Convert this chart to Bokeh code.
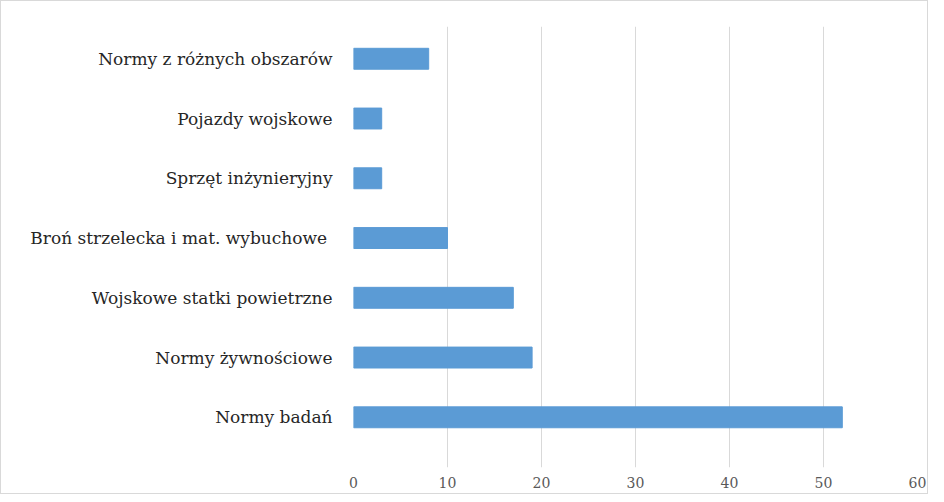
from bokeh.plotting import figure
from bokeh.models import Range1d, FixedTicker, ColumnDataSource
from bokeh.embed import file_html
from bokeh.resources import INLINE

categories = ["Normy badań", "Normy żywnościowe", "Wojskowe statki powietrzne",
              "Broń strzelecka i mat.  wybuchowe", "Sprzęt inżynieryjny",
              "Pojazdy wojskowe", "Normy z różnych obszarów"]
values = [52, 19, 17, 10, 3, 3, 8]
x_ticks = [0, 10, 20, 30, 40, 50, 60]

pos = list(range(len(categories)))
src = ColumnDataSource(dict(y=pos, v=values, name=categories))

p = figure(width=928, height=494, output_backend="svg", toolbar_location=None,
           x_range=Range1d(0, 60), y_range=Range1d(-0.84, 6.54),
           min_border_left=352, min_border_right=12, min_border_top=25, min_border_bottom=28,
           styles={"border": "1px solid #d9d9d9"})

p.hbar(y="y", right="v", left=0, height=0.35, source=src,
       fill_color="#5b9bd5", line_color="#5b9bd5")

p.outline_line_color = None
p.ygrid.grid_line_color = None
p.xgrid.grid_line_color = "#d9d9d9"
p.xgrid.ticker = FixedTicker(ticks=x_ticks)

p.xaxis.ticker = FixedTicker(ticks=x_ticks)
p.xaxis.axis_line_color = None
p.xaxis.major_tick_line_color = None
p.xaxis.minor_tick_line_color = None
p.xaxis.major_label_text_font = "DejaVu Serif"
p.xaxis.major_label_text_font_size = "14px"
p.xaxis.major_label_text_color = "#595959"
p.xaxis.major_label_standoff = 3

p.yaxis.ticker = FixedTicker(ticks=pos)
p.yaxis.major_label_overrides = {i: c for i, c in zip(pos, categories)}
p.yaxis.axis_line_color = None
p.yaxis.major_tick_line_color = None
p.yaxis.minor_tick_line_color = None
p.yaxis.major_label_text_font = "DejaVu Serif"
p.yaxis.major_label_text_font_size = "17px"
p.yaxis.major_label_text_color = "#262626"
p.yaxis.major_label_standoff = 15

open("out.html", "w").write(file_html(p, INLINE))
